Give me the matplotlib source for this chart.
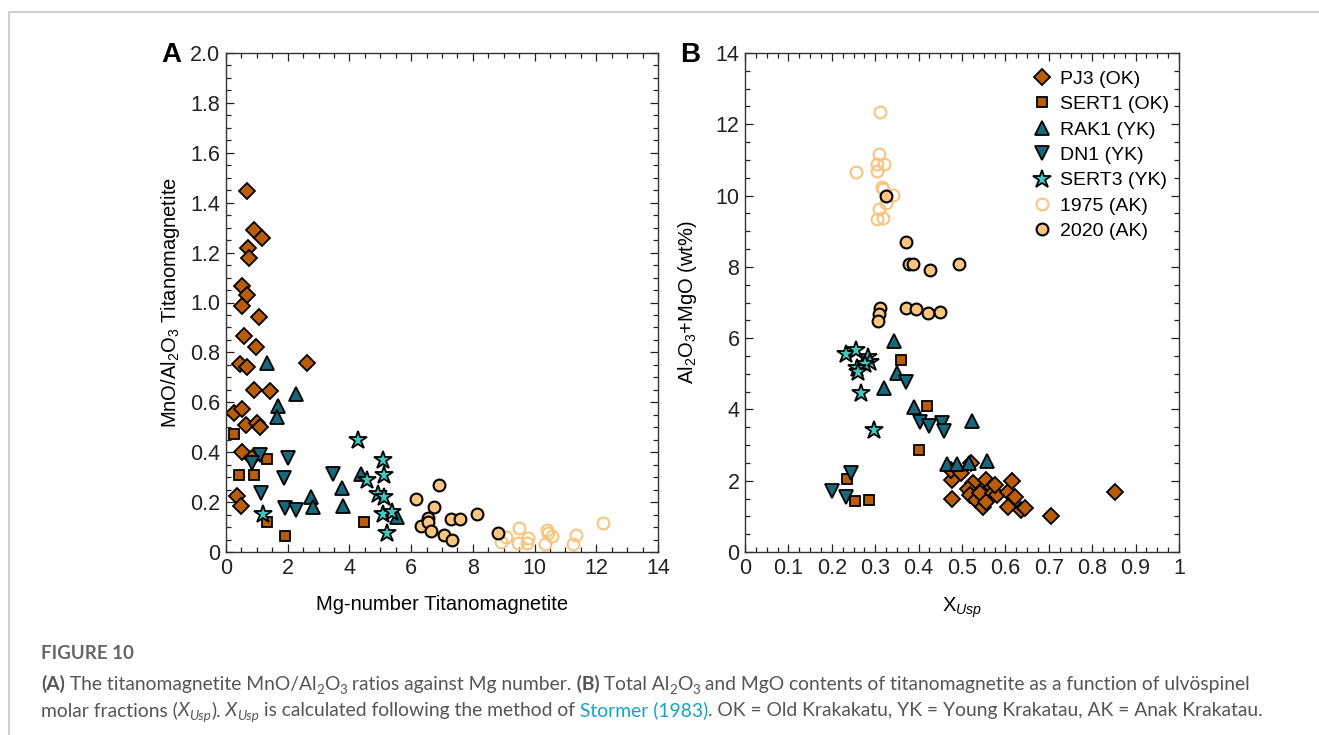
import matplotlib
matplotlib.use("Agg")
import matplotlib.pyplot as plt
from matplotlib.lines import Line2D
from matplotlib.ticker import MultipleLocator

plt.rcParams['font.family'] = ['Liberation Sans', 'DejaVu Sans']
plt.rcParams['mathtext.fontset'] = 'custom'
plt.rcParams['mathtext.rm'] = 'Liberation Sans'
plt.rcParams['mathtext.it'] = 'Liberation Sans:italic'
plt.rcParams['mathtext.bf'] = 'Liberation Sans:bold'

# ---- panel A: MnO/Al2O3 vs Mg-number ----
pj3_a_x = [0.67, 0.90, 1.17, 0.70, 0.76, 0.51, 0.69, 0.53, 1.08, 0.59, 0.97, 0.45, 0.69,
           2.61, 0.92, 1.43, 0.26, 0.53, 0.64, 1.00, 1.10, 0.53, 0.83, 0.35, 0.49]
pj3_a_y = [1.448, 1.289, 1.257, 1.217, 1.178, 1.066, 1.029, 0.986, 0.942, 0.866, 0.823, 0.753, 0.743,
           0.759, 0.649, 0.647, 0.556, 0.572, 0.509, 0.518, 0.500, 0.402, 0.375, 0.224, 0.186]
sert1_a_x = [0.25, 0.43, 0.92, 1.34, 1.34, 1.92, 4.47]
sert1_a_y = [0.472, 0.309, 0.309, 0.371, 0.122, 0.064, 0.119]
rak1_a_x = [1.34, 2.27, 1.67, 1.64, 2.75, 2.83, 3.75, 3.80, 4.37, 5.53]
rak1_a_y = [0.759, 0.633, 0.585, 0.542, 0.222, 0.182, 0.255, 0.184, 0.313, 0.142]
dn1_a_x = [1.10, 0.85, 2.00, 1.88, 1.12, 1.91, 2.26, 3.48]
dn1_a_y = [0.389, 0.358, 0.375, 0.295, 0.235, 0.175, 0.168, 0.313]
sert3_a_x = [1.21, 4.27, 5.08, 5.12, 4.56, 4.94, 5.12, 5.10, 5.37, 5.23]
sert3_a_y = [0.152, 0.449, 0.369, 0.309, 0.289, 0.232, 0.222, 0.152, 0.162, 0.075]
ak1975_a_x = [9.06, 8.90, 9.49, 9.47, 9.80, 9.74, 10.39, 10.45, 10.55, 10.34, 11.34, 11.23, 12.23]
ak1975_a_y = [0.061, 0.039, 0.095, 0.037, 0.055, 0.037, 0.088, 0.075, 0.064, 0.032, 0.068, 0.032, 0.115]
ak2020_a_x = [6.16, 6.90, 6.75, 6.56, 6.32, 6.54, 6.64, 7.06, 7.31, 7.28, 7.58, 8.14, 8.82]
ak2020_a_y = [0.212, 0.267, 0.182, 0.138, 0.104, 0.119, 0.085, 0.068, 0.048, 0.131, 0.131, 0.151, 0.077]

# ---- panel B: Al2O3+MgO vs X_Usp ----
pj3_b_x = [0.476, 0.474, 0.497, 0.520, 0.476, 0.526, 0.514, 0.518, 0.533, 0.541, 0.549, 0.555, 0.555,
           0.568, 0.572, 0.581, 0.576, 0.607, 0.616, 0.622, 0.607, 0.636, 0.645, 0.704, 0.853]
pj3_b_y = [2.02, 2.30, 2.21, 2.49, 1.48, 1.93, 1.76, 1.60, 1.46, 1.65, 1.27, 1.41, 2.02,
           1.83, 1.65, 1.60, 1.88, 1.69, 2.00, 1.55, 1.27, 1.18, 1.23, 1.02, 1.68]
sert1_b_x = [0.360, 0.419, 0.402, 0.234, 0.253, 0.286]
sert1_b_y = [5.39, 4.11, 2.86, 2.05, 1.42, 1.46]
rak1_b_x = [0.343, 0.351, 0.320, 0.389, 0.522, 0.466, 0.489, 0.515, 0.557]
rak1_b_y = [5.93, 5.01, 4.61, 4.08, 3.68, 2.47, 2.47, 2.49, 2.55]
dn1_b_x = [0.372, 0.403, 0.424, 0.453, 0.459, 0.244, 0.201, 0.232]
dn1_b_y = [4.78, 3.66, 3.54, 3.61, 3.40, 2.21, 1.72, 1.55]
sert3_b_x = [0.233, 0.256, 0.284, 0.288, 0.276, 0.257, 0.261, 0.267, 0.298]
sert3_b_y = [5.56, 5.67, 5.46, 5.34, 5.27, 5.17, 5.06, 4.47, 3.42]
ak1975_b_x = [0.312, 0.309, 0.303, 0.320, 0.303, 0.256, 0.315, 0.317, 0.340, 0.325, 0.309, 0.303, 0.317]
ak1975_b_y = [12.34, 11.16, 10.89, 10.89, 10.68, 10.65, 10.23, 10.19, 10.01, 9.78, 9.62, 9.35, 9.38]
ak2020_b_x = [0.326, 0.370, 0.378, 0.388, 0.427, 0.493, 0.311, 0.309, 0.306, 0.370, 0.393, 0.422, 0.450]
ak2020_b_y = [9.98, 8.70, 8.09, 8.09, 7.92, 8.09, 6.84, 6.67, 6.49, 6.84, 6.81, 6.70, 6.73]

a_xticks = [0, 2, 4, 6, 8, 10, 12, 14]
a_yticks = [0, 0.2, 0.4, 0.6, 0.8, 1.0, 1.2, 1.4, 1.6, 1.8, 2.0]
a_yticklabels = ['0', '0.2', '0.4', '0.6', '0.8', '1.0', '1.2', '1.4', '1.6', '1.8', '2.0']
b_xticks = [0, 0.1, 0.2, 0.3, 0.4, 0.5, 0.6, 0.7, 0.8, 0.9, 1.0]
b_xticklabels = ['0', '0.1', '0.2', '0.3', '0.4', '0.5', '0.6', '0.7', '0.8', '0.9', '1']
b_yticks = [0, 2, 4, 6, 8, 10, 12, 14]

ORANGE = '#b95d0c'
TEAL = '#17687a'
CYAN = '#3fc9c2'
PEACH = '#f9c47e'

styles = {
    'PJ3 (OK)':   dict(marker='D', ms=8.5, mfc=ORANGE, mec='black', mew=1.3),
    'SERT1 (OK)': dict(marker='s', ms=7.3, mfc=ORANGE, mec='black', mew=1.3),
    'RAK1 (YK)':  dict(marker='^', ms=9.8, mfc=TEAL, mec='black', mew=1.3),
    'DN1 (YK)':   dict(marker='v', ms=9.8, mfc=TEAL, mec='black', mew=1.3),
    'SERT3 (YK)': dict(marker='*', ms=13.5, mfc=CYAN, mec='black', mew=1.3),
    '1975 (AK)':  dict(marker='o', ms=8.5, mfc='none', mec=PEACH, mew=1.5),
    '2020 (AK)':  dict(marker='o', ms=8.5, mfc=PEACH, mec='black', mew=1.5),
}

panel_a = [('PJ3 (OK)', pj3_a_x, pj3_a_y), ('SERT1 (OK)', sert1_a_x, sert1_a_y),
           ('RAK1 (YK)', rak1_a_x, rak1_a_y), ('DN1 (YK)', dn1_a_x, dn1_a_y),
           ('SERT3 (YK)', sert3_a_x, sert3_a_y), ('1975 (AK)', ak1975_a_x, ak1975_a_y),
           ('2020 (AK)', ak2020_a_x, ak2020_a_y)]
panel_b = [('PJ3 (OK)', pj3_b_x, pj3_b_y), ('SERT1 (OK)', sert1_b_x, sert1_b_y),
           ('RAK1 (YK)', rak1_b_x, rak1_b_y), ('DN1 (YK)', dn1_b_x, dn1_b_y),
           ('SERT3 (YK)', sert3_b_x, sert3_b_y), ('1975 (AK)', ak1975_b_x, ak1975_b_y),
           ('2020 (AK)', ak2020_b_x, ak2020_b_y)]

W, H = 1319, 735
fig = plt.figure(figsize=(W / 100, H / 100), dpi=100)

axA = fig.add_axes([226 / W, 1 - 552 / H, 432 / W, 499 / H])
axB = fig.add_axes([745 / W, 1 - 552 / H, 434 / W, 499 / H])


def style_axes(ax):
    for sp in ax.spines.values():
        sp.set_linewidth(1.0)
        sp.set_color('#333333')
    ax.tick_params(which='both', top=True, right=True, direction='in',
                   labelsize=15.5, colors='#222222', width=0.9)
    ax.tick_params(which='major', length=6, pad=4)
    ax.tick_params(which='minor', length=3.5)


for name, xs, ys in panel_a:
    axA.plot(xs, ys, ls='none', **styles[name])
for name, xs, ys in panel_b:
    axB.plot(xs, ys, ls='none', label=name, **styles[name])

axA.set_xlim(0, 14)
axA.set_ylim(0, 2.0)
axA.set_xticks(a_xticks)
axA.set_yticks(a_yticks)
axA.set_yticklabels(a_yticklabels)
axA.xaxis.set_minor_locator(MultipleLocator(0.5))
axA.yaxis.set_minor_locator(MultipleLocator(0.05))
style_axes(axA)
axA.set_xlabel('Mg-number Titanomagnetite', fontsize=14.5, labelpad=12)
axA.set_ylabel('MnO/Al$_2$O$_3$ Titanomagnetite', fontsize=14.5, labelpad=6)

axB.set_xlim(0, 1)
axB.set_ylim(0, 14)
axB.set_xticks(b_xticks)
axB.set_xticklabels(b_xticklabels)
axB.set_yticks(b_yticks)
axB.xaxis.set_minor_locator(MultipleLocator(0.025))
axB.yaxis.set_minor_locator(MultipleLocator(0.5))
style_axes(axB)
axB.set_xlabel('X$_{\\mathit{Usp}}$', fontsize=14.5, labelpad=12)
axB.set_ylabel('Al$_2$O$_3$+MgO (wt%)', fontsize=14.5, labelpad=12)

axB.legend(loc='upper right', bbox_to_anchor=(1.0, 0.985), frameon=False, fontsize=14,
           handletextpad=0.35, labelspacing=0.4, handlelength=1.2, borderaxespad=0.1)

fig.text(171 / W, 1 - 55 / H, 'A', fontsize=20, fontweight='bold', ha='center', va='center')
fig.text(690 / W, 1 - 55 / H, 'B', fontsize=20, fontweight='bold', ha='center', va='center')

# page frame
fig.add_artist(Line2D([9 / W, 1], [1 - 12 / H, 1 - 12 / H], color='#cfcfcf', lw=1.5))
fig.add_artist(Line2D([9 / W, 9 / W], [0, 1 - 12 / H], color='#cfcfcf', lw=1.5))

# caption
CAP = '#555555'
LINK = '#17a3c4'
CAP_SIZE = 13.9
cap_font = ['Lato', 'DejaVu Sans']
fig.text(41 / W, 1 - 659 / H, 'FIGURE 10', fontsize=13.5, color='#666666',
         family=cap_font, fontweight='bold', va='baseline')

renderer = fig.canvas.get_renderer()


def caption_line(parts, base_px, x_px=41):
    # each piece: text, colour, weight, style, size factor, lift in px
    x = x_px / W
    for txt, color, weight, style, scale, lift in parts:
        t = fig.text(x, 1 - (base_px - lift) / H, txt, fontsize=CAP_SIZE * scale, color=color,
                     family=cap_font, fontweight=weight, fontstyle=style, va='baseline')
        bb = t.get_window_extent(renderer)
        x += bb.width / W


N = 'normal'
caption_line([
    ('(A)', CAP, 'bold', N, 1, 0),
    (' The titanomagnetite MnO/Al', CAP, N, N, 1, 0),
    ('2', CAP, N, N, 0.7, -4),
    ('O', CAP, N, N, 1, 0),
    ('3', CAP, N, N, 0.7, -4),
    (' ratios against Mg number.', CAP, N, N, 1, 0),
    (' (B)', CAP, 'bold', N, 1, 0),
    (' Total Al', CAP, N, N, 1, 0),
    ('2', CAP, N, N, 0.7, -4),
    ('O', CAP, N, N, 1, 0),
    ('3', CAP, N, N, 0.7, -4),
    (' and MgO contents of titanomagnetite as a function of ulvöspinel', CAP, N, N, 1, 0),
], 690)
caption_line([
    ('molar fractions (', CAP, N, N, 1, 0),
    ('X', CAP, N, 'italic', 1, 0),
    ('Usp', CAP, N, 'italic', 0.7, -4),
    (').', CAP, N, N, 1, 0),
    (' X', CAP, N, 'italic', 1, 0),
    ('Usp', CAP, N, 'italic', 0.7, -4),
    (' is calculated following the method of', CAP, N, N, 1, 0),
    (' Stormer (1983)', LINK, N, N, 1, 0),
    ('. OK = Old Krakakatu, YK = Young Krakatau, AK = Anak Krakatau.', CAP, N, N, 1, 0),
], 716)

fig.savefig('out.png', dpi=100)
